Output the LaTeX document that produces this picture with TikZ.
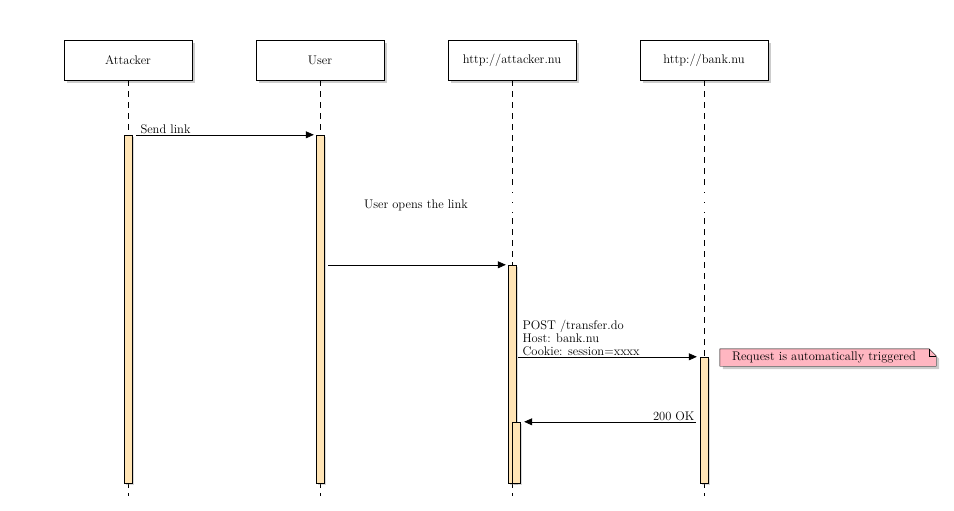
\documentclass[tikz,border=0pt]{standalone}
\usepackage{tikz}
\usetikzlibrary{arrows.meta,shadows}

\definecolor{barfill}{HTML}{FFE4B5}
\definecolor{notefill}{HTML}{FFB6C1}

\tikzset{
  actor/.style={draw,fill=white,minimum width=128pt,minimum height=40pt,font=\fontsize{12.5}{13}\selectfont,
    drop shadow={shadow xshift=3pt,shadow yshift=-3pt,opacity=0.4}},
  lifeline/.style={dash pattern=on 6pt off 5pt,thin},
  delayline/.style={dash pattern=on 1pt off 9pt,thin},
  bar/.style={draw,fill=barfill,minimum width=8pt,inner sep=0pt,
    drop shadow={shadow xshift=2pt,shadow yshift=-2pt,opacity=0.3}},
  msg/.style={-{Triangle[length=8pt,width=7pt]},semithick},
  lbl/.style={font=\fontsize{12.5}{13}\selectfont,inner sep=1pt}
}

\begin{document}
\begin{tikzpicture}[>=Latex,x=1pt,y=-1pt]
  \useasboundingbox (0,0) rectangle (954,511);
  % participants
  \node[actor] (attacker) at (128,60) {Attacker};
  \node[actor] (user) at (320,60) {User};
  \node[actor] (site) at (512,60) {http://attacker.nu};
  \node[actor] (bank) at (704,60) {http://bank.nu};
  % lifelines, with the delay around "User opens the link"
  \foreach \p in {attacker,user,site,bank}{
    \draw[lifeline] (\p.south) -- ++(0,108);
    \draw[delayline] ([yshift=-112pt]\p.south) -- ++(0,22);
    \draw[lifeline] ([yshift=-138pt]\p.south) -- ++(0,278);
  }
  % activation bars
  \node[bar,minimum height=348pt] (abar) at (128,309) {};
  \node[bar,minimum height=348pt] (ubar) at (320,309) {};
  \node[bar,minimum height=218pt] (sbar) at (512,374) {};
  \node[bar,minimum height=61pt] (snest) at (516,452.5) {};
  \node[bar,minimum height=126pt] (bbar) at (704,420) {};
  % messages
  \draw[msg] ([xshift=4pt]abar.north east) -- ([xshift=-2pt]ubar.north west)
    node[lbl,pos=0,anchor=south west,xshift=3pt] {Send link};
  \node[lbl] (opens) at (416,205) {User opens the link};
  \draw[msg] ([xshift=4pt]ubar.east |- sbar.north) -- ([xshift=-2pt]sbar.north west);
  \draw[msg] ([xshift=2pt]sbar.east |- bbar.north) -- ([xshift=-3pt]bbar.north west)
    node[lbl,pos=0,anchor=south west,align=left,xshift=3pt]
      {POST /transfer.do\\Host: bank.nu\\Cookie: session=xxxx};
  \draw[msg] ([xshift=-4pt]bbar.west |- snest.north) -- ([xshift=4pt]snest.north east)
    node[lbl,pos=0,anchor=south east] {200 OK};
  % note
  \node[lbl,minimum width=216pt,minimum height=17pt,inner sep=0pt] (note) at (828,357.5) {};
  \filldraw[fill=notefill,thin,drop shadow={shadow xshift=3pt,shadow yshift=-3pt,opacity=0.4}]
    (note.north west) -- ([xshift=-7pt]note.north east) -- ([yshift=-7pt]note.north east)
    -- (note.south east) -- (note.south west) -- cycle;
  \draw[thin] ([xshift=-7pt]note.north east) -- ([xshift=-7pt,yshift=-7pt]note.north east)
    -- ([yshift=-7pt]note.north east);
  \node[lbl] at ([xshift=-4pt]note.center) {Request is automatically triggered};
\end{tikzpicture}
\end{document}
